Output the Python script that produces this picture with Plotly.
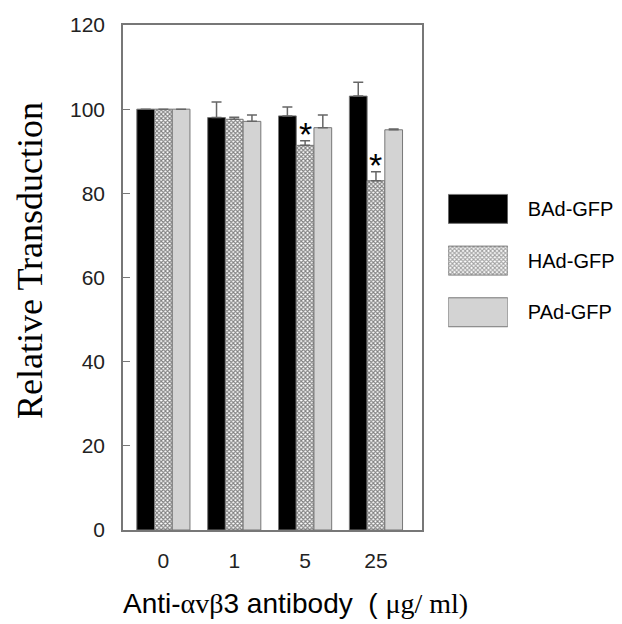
import plotly.graph_objects as go

doses = ["0", "1", "5", "25"]
series = ["BAd-GFP", "HAd-GFP", "PAd-GFP"]

bad_vals = [100, 98.0, 98.4, 103.1]
bad_err = [0, 3.7, 2.1, 3.3]
had_vals = [100, 97.6, 91.4, 83.0]
had_err = [0, 0.5, 1.1, 2.1]
pad_vals = [100, 97.1, 95.6, 95.1]
pad_err = [0, 1.5, 3.0, 0.2]
had_marks = ["", "", "*", "*"]

fills = ["black", "white", "#d3d3d3"]
patterns = ["", "x", ""]

fig = go.Figure()

for name, vals, err, fill, pat in zip(series, [bad_vals, had_vals, pad_vals],
                                       [bad_err, had_err, pad_err], fills, patterns):
    fig.add_trace(go.Bar(
        x=doses, y=vals, name=name,
        marker=dict(color=fill, line=dict(color="#777", width=1),
                    pattern=dict(shape=pat, fgcolor="black", bgcolor="white",
                                 size=3, solidity=0.6)),
        error_y=dict(type="data", array=err, arrayminus=[0] * len(err),
                     symmetric=False, color="#666", thickness=1.5, width=5),
        showlegend=False,
    ))

# legend swatches drawn as bars on their own little axis
fig.add_trace(go.Bar(
    y=series, x=[1, 1, 1], orientation="h", width=0.56,
    marker=dict(color=fills, line=dict(color="#777", width=1),
                pattern=dict(shape=patterns, fgcolor="black", bgcolor="white",
                             size=3, solidity=0.6)),
    xaxis="x2", yaxis="y2", showlegend=False, hoverinfo="skip",
))

# significance stars above HAd bars
for i, (v, e, m) in enumerate(zip(had_vals, had_err, had_marks)):
    if m:
        fig.add_annotation(x=i, y=v + e, text=m, showarrow=False, yanchor="middle",
                           yshift=7,
                           font=dict(size=34, color="black", family="Liberation Sans"))

fig.add_annotation(
    xref="paper", yref="paper", x=-0.19, y=0.533, xanchor="center", yanchor="middle",
    textangle=-90, text="Relative Transduction", showarrow=False,
    font=dict(size=36, color="black", family="Liberation Serif"),
)
fig.add_annotation(
    xref="paper", yref="paper", x=0.352, y=-0.145, xanchor="center", yanchor="middle",
    text=("Anti-<span style='font-family:Liberation Serif'>αvβ</span>3 antibody "
          " ( <span style='font-family:Liberation Serif'>μg/ ml)</span>"),
    showarrow=False, font=dict(size=28, color="black", family="Liberation Sans"),
)

# the page adds 8px of body margin, so the figure is 8px smaller
fig.update_layout(
    width=614, height=616,
    margin=dict(l=115, r=10, t=17, b=94, autoexpand=False),
    paper_bgcolor="white", plot_bgcolor="white",
    barmode="group", bargap=0.25, bargroupgap=0,
    xaxis=dict(domain=[0, 0.6115], type="category", range=[-0.57, 3.65],
               showline=True, linecolor="#777", linewidth=1.5, mirror=True,
               ticks="", showgrid=False, ticklabelstandoff=11, automargin=False,
               tickfont=dict(size=21, color="#222", family="Liberation Sans")),
    yaxis=dict(range=[0, 120], dtick=20, showline=True, linecolor="#777",
               linewidth=1.5, mirror=True, ticks="inside", ticklen=7,
               tickcolor="#777", showgrid=False, zeroline=False,
               ticklabelstandoff=12, automargin=False,
               tickfont=dict(size=21, color="#222", family="Liberation Sans")),
    xaxis2=dict(domain=[0.665, 0.787], range=[0, 1], visible=False,
                anchor="y2", fixedrange=True, automargin=False),
    yaxis2=dict(domain=[0.380, 0.687], anchor="x2", side="right",
                autorange="reversed", showline=False, ticks="", showgrid=False,
                ticklabelstandoff=19, automargin=False,
                tickfont=dict(size=20, color="black", family="Liberation Sans")),
)

fig.write_html("out.html")
